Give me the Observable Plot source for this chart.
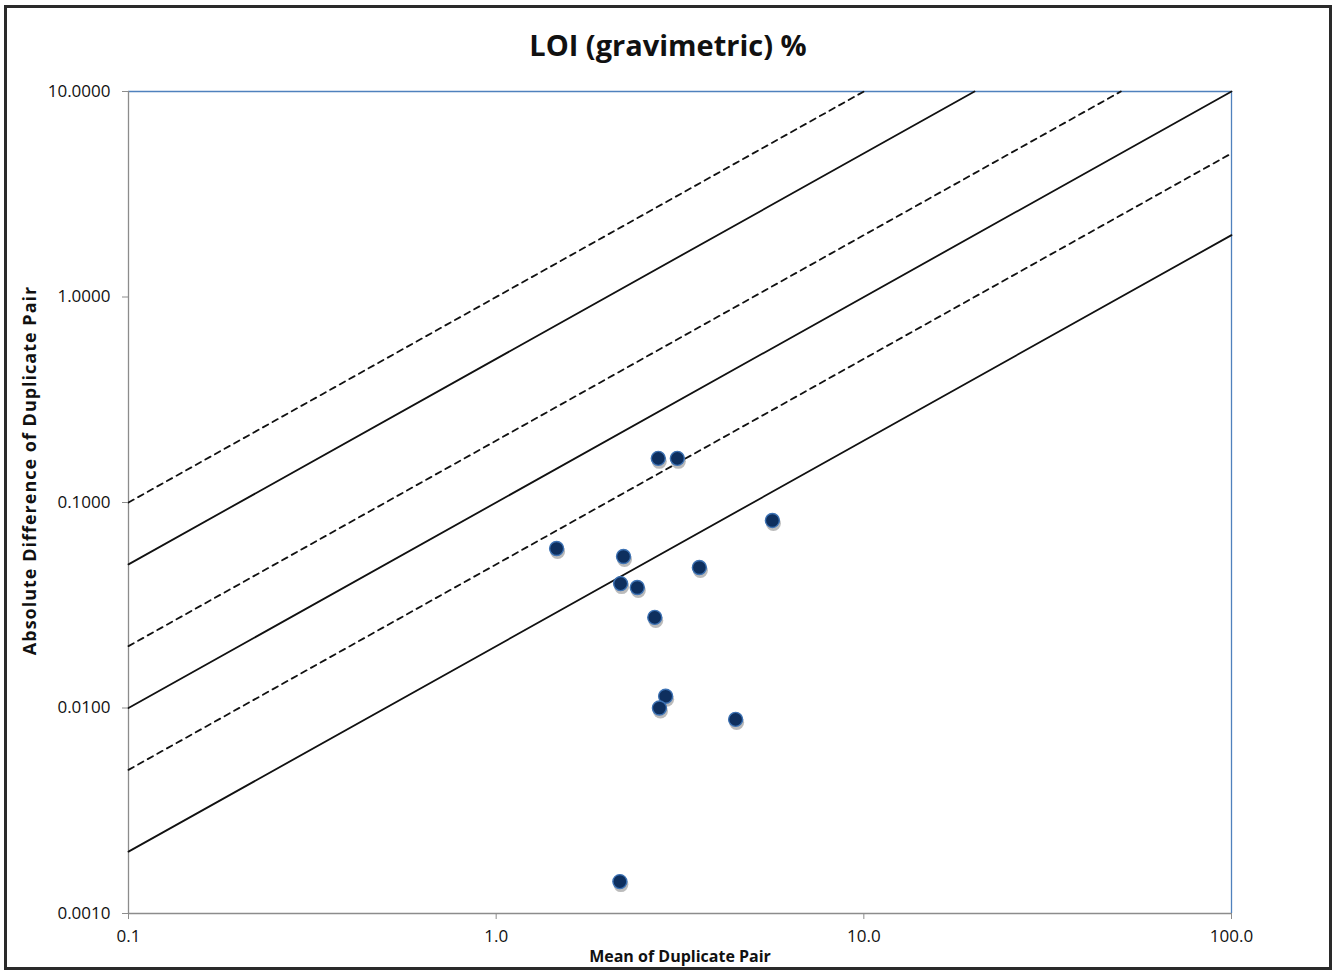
<!DOCTYPE html>
<html>
<head>
<meta charset="utf-8">
<script src="https://cdn.jsdelivr.net/npm/d3@7"></script>
<script src="https://cdn.jsdelivr.net/npm/@observablehq/plot@0.6"></script>
<style>
  html, body { margin: 0; padding: 0; background: #fff; }
  #wrap { position: relative; width: 1336px; height: 972px; overflow: hidden; font-family: "Open Sans", Lato, sans-serif; background: #fff; }
  #border { position: absolute; left: 4px; top: 5px; width: 1322px; height: 959px; border: 3px solid #2a2a2a; pointer-events: none; z-index: 3; }
  #title { position: absolute; left: 0; width: 1336px; top: 25px; text-align: center; font-size: 29px; font-weight: bold; color: #111; z-index: 2; }
  #chart { position: absolute; left: 0; top: 60px; z-index: 1; }
</style>
</head>
<body>
<div id="wrap">
  <div id="title">LOI (gravimetric) %</div>
  <div id="chart"></div>
  <div id="border"></div>
</div>
<script>
// Duplicate pair data
const meanOfPair = [1.46, 2.76, 3.11, 5.64, 2.22, 2.18, 2.42, 3.57, 2.70, 2.89, 2.78, 4.48, 2.17];
const absDiff    = [0.0597, 0.164, 0.164, 0.0818, 0.0546, 0.0403, 0.0386, 0.0483, 0.0276, 0.0114, 0.0100, 0.0088, 0.00143];

// Reference lines: absolute difference = ratio * mean
const lineRatios = [1, 0.5, 0.2, 0.1, 0.05, 0.02];
const lineDashed = [true, false, true, false, true, false];

const xTicks = [0.1, 1, 10, 100];
const yTicks = [0.001, 0.01, 0.1, 1, 10];
const xDomain = [0.1, 100];
const yDomain = [0.001, 10];

const points = meanOfPair.map((m, i) => ({x: m, y: absDiff[i]}));
const lines = [];
lineRatios.forEach((k, i) => {
  const x0 = xDomain[0];
  const x1 = Math.min(xDomain[1], yDomain[1] / k);
  lines.push({id: i, dashed: lineDashed[i], x: x0, y: k * x0});
  lines.push({id: i, dashed: lineDashed[i], x: x1, y: k * x1});
});
const solid = lines.filter(d => !d.dashed);
const dashed = lines.filter(d => d.dashed);

const chart = Plot.plot({
  width: 1336,
  height: 912,
  marginLeft: 128,
  marginRight: 105,
  marginTop: 31,
  marginBottom: 59,
  style: {fontFamily: "'Open Sans', Lato, sans-serif", fontSize: "17px", color: "#111", background: "transparent"},
  x: {type: "log", domain: xDomain},
  y: {type: "log", domain: yDomain},
  marks: [
    Plot.ruleY([yDomain[1]], {stroke: "#4f81bd", strokeWidth: 1.3}),
    Plot.ruleX([xDomain[1]], {stroke: "#4f81bd", strokeWidth: 1.3}),
    Plot.ruleX([xDomain[0]], {stroke: "#8c8c8c", strokeWidth: 1.3}),
    Plot.ruleY([yDomain[0]], {stroke: "#8c8c8c", strokeWidth: 1.3}),
    Plot.line(solid, {x: "x", y: "y", z: "id", stroke: "#111", strokeWidth: 1.8}),
    Plot.line(dashed, {x: "x", y: "y", z: "id", stroke: "#111", strokeWidth: 1.8, strokeDasharray: "6,5"}),
    Plot.axisY({ticks: yTicks, tickFormat: d3.format(".4f"), tickSize: 6, tickPadding: 12, stroke: "#8c8c8c", fill: "#111", fontSize: 17, label: null}),
    Plot.axisX({ticks: xTicks, tickFormat: d3.format(".1f"), tickSize: 6, tickPadding: 10, stroke: "#8c8c8c", fill: "#111", fontSize: 17, label: null}),
    Plot.text(["Mean of Duplicate Pair"], {frameAnchor: "bottom", dy: 48, fontWeight: "bold", fontSize: 16, fill: "#111"}),
    Plot.text(["Absolute Difference of Duplicate Pair"], {frameAnchor: "left", textAnchor: "middle", dx: -98, dy: -32, rotate: -90, fontWeight: "bold", fontSize: 18, fill: "#111", className: "ylabel"}),
    Plot.dot(points, {x: "x", y: "y", r: 7.5, fill: "#555", fillOpacity: 0.4, stroke: "none", dx: 1, dy: 3}),
    Plot.dot(points, {x: "x", y: "y", r: 7, fill: "#0e2f5e", stroke: "#3d72b4", strokeWidth: 1.4})
  ]
});
d3.select(chart).selectAll(".ylabel text").attr("letter-spacing", "1px");
document.getElementById("chart").appendChild(chart);
</script>
</body>
</html>
